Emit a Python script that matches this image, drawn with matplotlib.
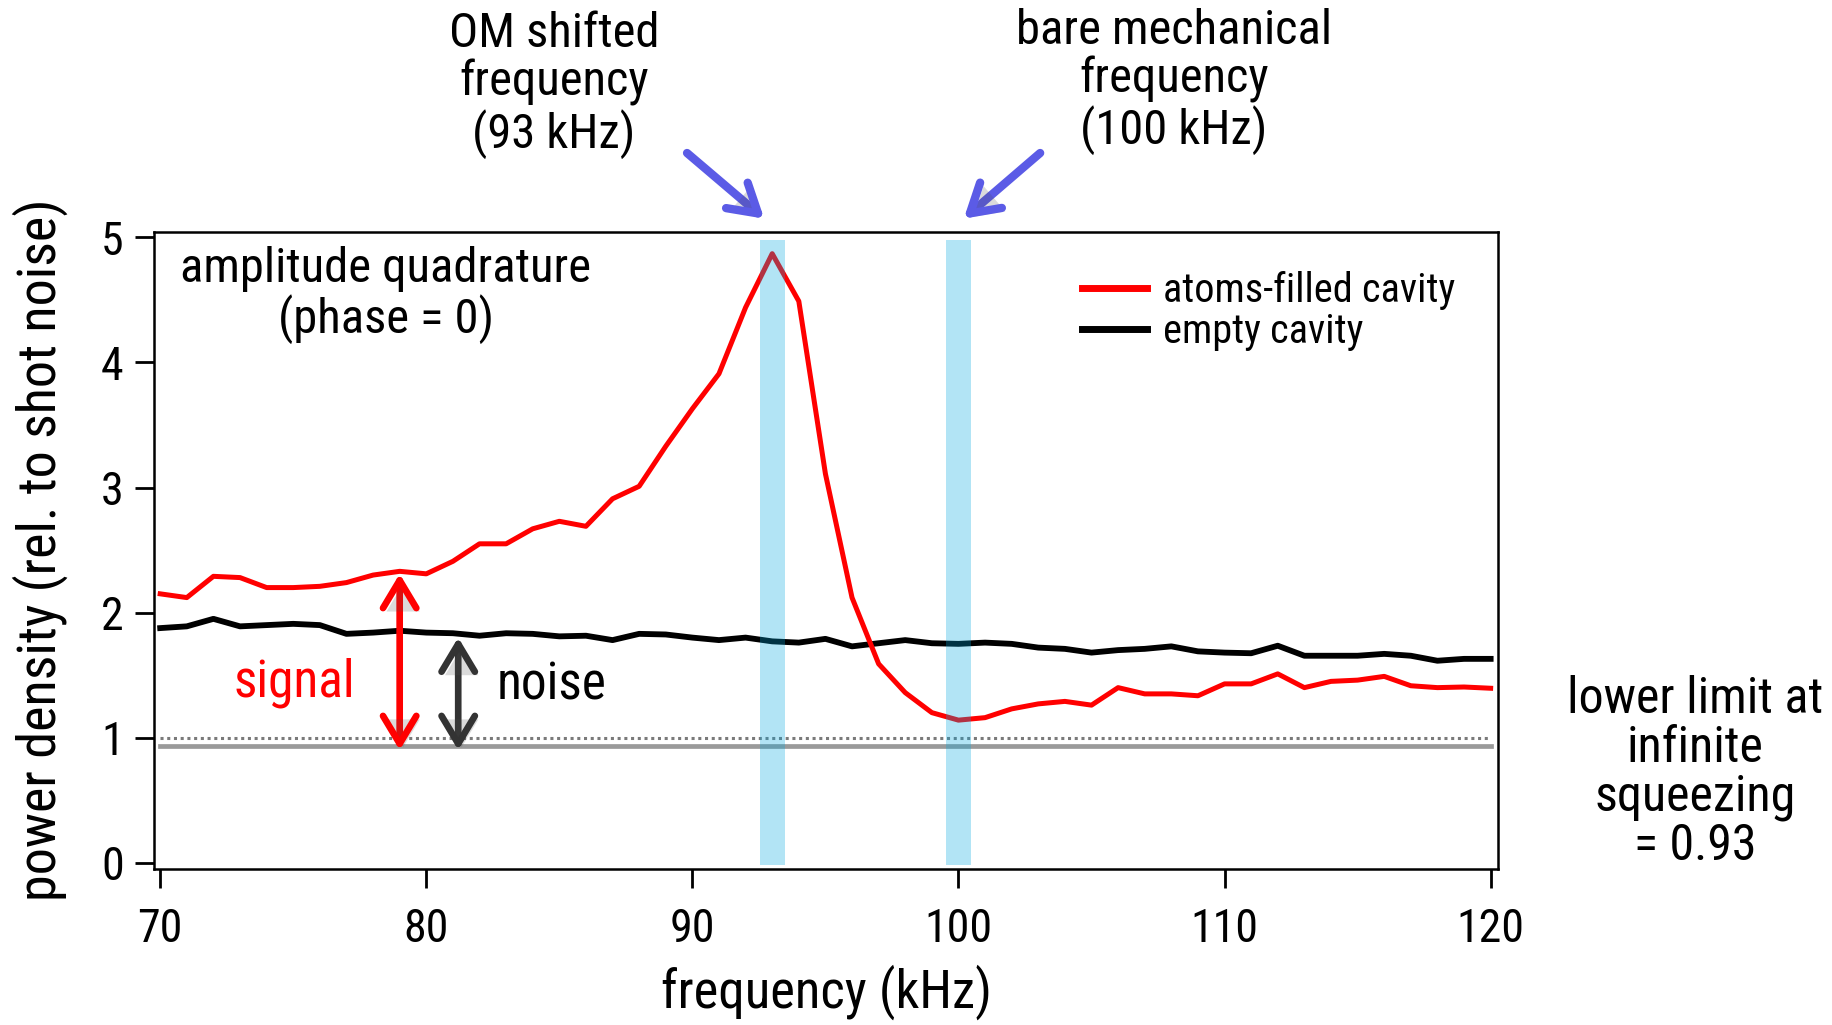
import matplotlib.pyplot as plt
from matplotlib import font_manager
from matplotlib.lines import Line2D
import matplotlib.patheffects as pe
import numpy as np

# pick a narrow sans if one is around, else Liberation Sans
installed = {f.name for f in font_manager.fontManager.ttflist}
family = 'Liberation Sans'
for cand in ['Liberation Sans Narrow', 'Arial Narrow', 'Roboto Condensed', 'Open Sans Condensed']:
    if cand in installed:
        family = cand
        break
plt.rcParams['font.family'] = [family, 'DejaVu Sans']

# frequency axis, 1 kHz steps
freq = np.arange(70, 121)

atoms = [2.15, 2.12, 2.29, 2.28, 2.20, 2.20, 2.21, 2.24, 2.30, 2.33,
         2.31, 2.41, 2.55, 2.55, 2.67, 2.73, 2.69, 2.91, 3.01, 3.33,
         3.63, 3.91, 4.44, 4.87, 4.49, 3.11, 2.12, 1.59, 1.36, 1.20,
         1.14, 1.16, 1.23, 1.27, 1.29, 1.26, 1.40, 1.35, 1.35, 1.335,
         1.43, 1.43, 1.51, 1.40, 1.45, 1.46, 1.49, 1.415, 1.40, 1.405,
         1.395]

empty = [1.876, 1.89, 1.95, 1.89, 1.90, 1.91, 1.90, 1.83, 1.84, 1.855,
         1.84, 1.835, 1.815, 1.835, 1.83, 1.81, 1.815, 1.78, 1.83, 1.825,
         1.80, 1.78, 1.80, 1.77, 1.76, 1.79, 1.73, 1.755, 1.78, 1.755,
         1.75, 1.76, 1.75, 1.72, 1.71, 1.68, 1.70, 1.71, 1.73, 1.69,
         1.68, 1.675, 1.735, 1.655, 1.655, 1.655, 1.67, 1.655, 1.615, 1.63,
         1.63]

shot_noise = 1.0
squeeze_limit = 0.93
om_freq = 93
bare_freq = 100
band_halfwidth = 0.47
signal_freq = 79
noise_freq = 81.2

fig = plt.figure(figsize=(18.33, 10.25), dpi=100)
ax = fig.add_axes([0.0842, 0.1526, 0.7328, 0.6215])

ax.plot([freq[0], freq[-1]], [shot_noise, shot_noise], ls=(0, (1, 1.2)), color='#7a7a7a', lw=2.2)
ax.plot([freq[0], freq[-1]], [squeeze_limit, squeeze_limit], color='#9a9a9a', lw=3.4)
ax.plot(freq, empty, color='k', lw=4.2)
ax.plot(freq, atoms, color='#ff0000', lw=3.6)

for f in [om_freq, bare_freq]:
    ax.fill_between([f - band_halfwidth, f + band_halfwidth], -0.02, 4.98,
                    color='#00a8e0', alpha=0.3, lw=0, zorder=5)

ax.set_xlim(69.78, 120.26)
ax.set_ylim(-0.047, 5.047)
ax.set_xticks([70, 80, 90, 100, 110, 120])
ax.set_yticks([0, 1, 2, 3, 4, 5])
ax.tick_params(labelsize=33, width=2, length=14, direction='out')
ax.tick_params(axis='x', pad=14)
ax.tick_params(axis='y', pad=8)
for s in ax.spines.values():
    s.set_linewidth(1.8)

ax.set_xlabel('frequency (kHz)', fontsize=38, labelpad=9)
ax.set_ylabel('power density (rel. to shot noise)', fontsize=39, labelpad=24)

shadow = [pe.SimplePatchShadow(offset=(2.5, -2.5), alpha=0.2), pe.Normal()]

# signal / noise arrows
sig_top = np.interp(signal_freq, freq, atoms)
noise_top = np.interp(noise_freq, freq, empty)
ax.annotate('', xy=(signal_freq, squeeze_limit - 0.03), xytext=(signal_freq, sig_top - 0.02),
            arrowprops=dict(arrowstyle='<->,head_length=1.0,head_width=0.6',
                            mutation_scale=20, color='#ff0000', lw=4.8,
                            shrinkA=0, shrinkB=0, capstyle='round', joinstyle='round',
                            path_effects=shadow))
ax.annotate('', xy=(noise_freq, squeeze_limit - 0.03), xytext=(noise_freq, noise_top - 0.03),
            arrowprops=dict(arrowstyle='<->,head_length=1.0,head_width=0.6',
                            mutation_scale=20, color='#333333', lw=4.8,
                            shrinkA=0, shrinkB=0, capstyle='round', joinstyle='round',
                            path_effects=shadow))
ax.text(75.05, 1.44, 'signal', color='#ff0000', fontsize=37, ha='center', va='center')
ax.text(84.72, 1.42, 'noise', color='k', fontsize=37, ha='center', va='center')

ax.text(78.48, 4.54, 'amplitude quadrature\n(phase = 0)', fontsize=35,
        ha='center', va='center', multialignment='center', linespacing=1.06)

# labels above the plot with blue arrows
ax.text(84.8, 6.22, 'OM shifted\nfrequency\n(93 kHz)', fontsize=35, ha='center',
        va='center', linespacing=1.06, clip_on=False)
ax.text(108.1, 6.245, 'bare mechanical\nfrequency\n(100 kHz)', fontsize=35, ha='center',
        va='center', linespacing=1.06, clip_on=False)
ax.annotate('', xy=(92.7, 5.15), xytext=(89.8, 5.675), annotation_clip=False,
            arrowprops=dict(arrowstyle='->,head_length=1.0,head_width=0.6',
                            mutation_scale=20, color='#5b5be6', lw=6,
                            shrinkA=0, shrinkB=0, capstyle='round', joinstyle='round',
                            path_effects=shadow))
ax.annotate('', xy=(100.2, 5.15), xytext=(103.07, 5.675), annotation_clip=False,
            arrowprops=dict(arrowstyle='->,head_length=1.0,head_width=0.6',
                            mutation_scale=20, color='#5b5be6', lw=6,
                            shrinkA=0, shrinkB=0, capstyle='round', joinstyle='round',
                            path_effects=shadow))

ax.text(127.7, 0.72, 'lower limit at\ninfinite\nsqueezing\n= 0.93', fontsize=36,
        ha='center', va='center', linespacing=1.02, clip_on=False)

handles = [Line2D([], [], color='#ff0000', lw=5), Line2D([], [], color='k', lw=5)]
ax.legend(handles, ['atoms-filled cavity', 'empty cavity'], loc='upper left',
          bbox_to_anchor=(0.664, 0.995), frameon=False, fontsize=29,
          handlelength=1.6, handletextpad=0.4, labelspacing=0.05)

fig.savefig('out.png', dpi=100)
